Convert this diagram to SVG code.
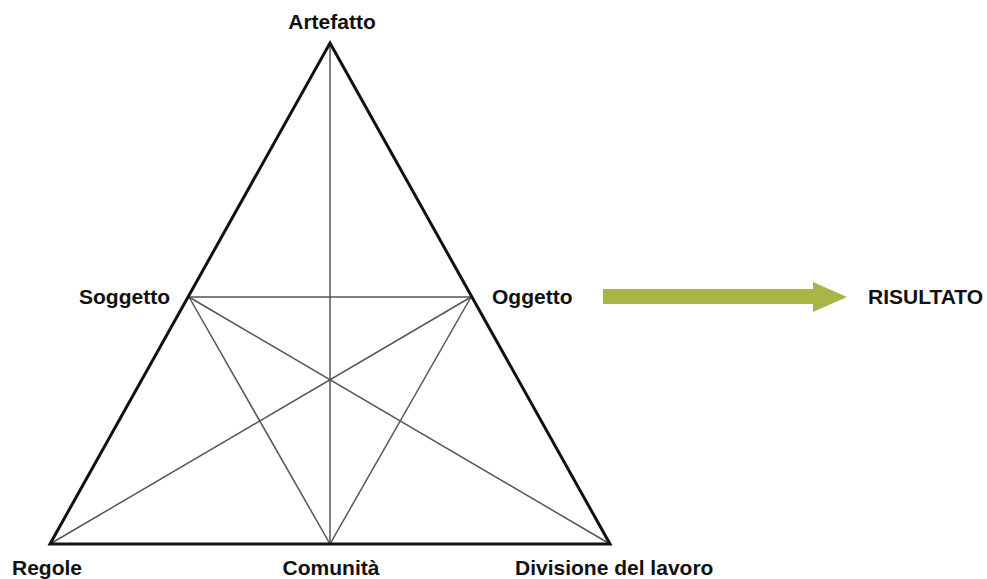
<svg xmlns="http://www.w3.org/2000/svg" width="987" height="579" viewBox="0 0 987 579">
<style>
.lbl{font-family:"Liberation Sans",Arial,sans-serif;font-weight:bold;font-size:21px;fill:#111}
.outer{fill:none;stroke:#111;stroke-width:3;stroke-linejoin:miter}
.inner{fill:none;stroke:#555;stroke-width:1.5}
</style>
<rect width="987" height="579" fill="#fff"/>
<g id="connectors">
<line class="inner" x1="330" y1="44" x2="330" y2="544"/>
<line class="inner" x1="189" y1="297" x2="471" y2="297"/>
<line class="inner" x1="189" y1="297" x2="610" y2="544"/>
<line class="inner" x1="471" y1="297" x2="50" y2="544"/>
<line class="inner" x1="189" y1="297" x2="330" y2="544"/>
<line class="inner" x1="471" y1="297" x2="330" y2="544"/>
<polygon class="outer" points="330,43 610,544 50,544"/>
<polygon id="arrow" points="603,289 813,289 813,282 847,297 813,312 813,304 603,304" fill="#a8b645"/>
</g>
<g id="artefatto"><text class="lbl" x="332" y="29" text-anchor="middle">Artefatto</text></g>
<g id="soggetto"><text class="lbl" x="170" y="304" text-anchor="end">Soggetto</text></g>
<g id="oggetto"><text class="lbl" x="492" y="304">Oggetto</text></g>
<g id="risultato"><text class="lbl" x="868" y="304">RISULTATO</text></g>
<g id="regole"><text class="lbl" x="12" y="575">Regole</text></g>
<g id="comunita"><text class="lbl" x="331" y="575" text-anchor="middle">Comunità</text></g>
<g id="divisione"><text class="lbl" x="515" y="575">Divisione del lavoro</text></g>
</svg>
